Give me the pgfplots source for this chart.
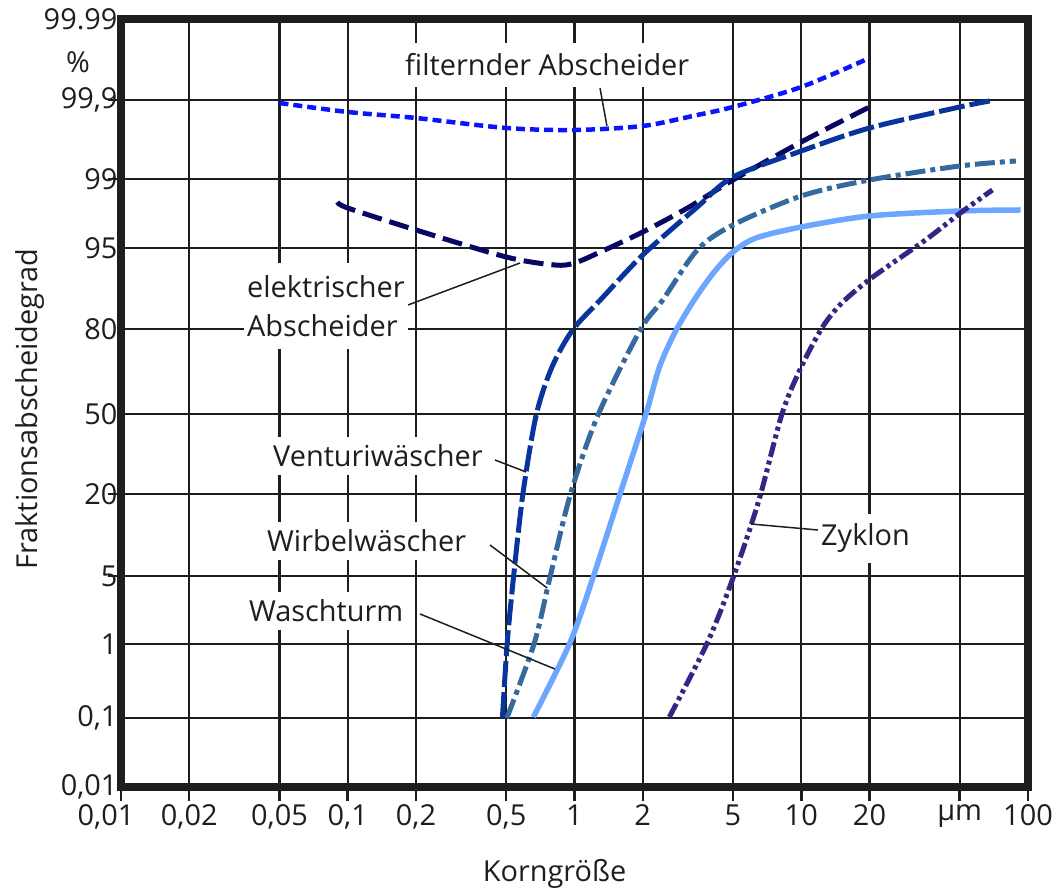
\documentclass[border=0pt]{standalone}
\usepackage{fontspec}
\setmainfont{Open Sans}
\usepackage{pgfplots}
\pgfplotsset{compat=1.18}
\usetikzlibrary{calc}
\definecolor{cfilt}{RGB}{10,20,255}
\definecolor{celek}{RGB}{8,8,100}
\definecolor{cvent}{RGB}{8,52,158}
\definecolor{cwirb}{RGB}{52,106,158}
\definecolor{cwasch}{RGB}{108,166,255}
\definecolor{czyk}{RGB}{50,38,135}
\definecolor{ctext}{RGB}{30,30,30}
\begin{document}
\begin{tikzpicture}[font=\fontsize{29}{39.5}\selectfont]
\begin{axis}[
  name=ax,
  at={(0,0)}, anchor=south west,
  scale only axis,
  width=907bp, height=768bp,
  xmode=log, xmin=0.01, xmax=100,
  ymin=0, ymax=768,
  xtick={0.01,0.02,0.05,0.1,0.2,0.5,1,2,5,10,20,50,100},
  xticklabels={{\hbox to 0pt{\hss 0,01\hskip 30bp\hss}},{0,02},{0,05},{0,1},{0,2},{0,5},{1},{2},{5},{10},{20},{µm},{100}},
  minor xtick={},
  ytick={0,69,143,211,293,373,458,539,608,687,768},
  yticklabels={{0,01},{0,1},{1},{5},{20},{50},{80},{95},{99},{99,9},{99.99}},
  grid=major,
  tick align=outside,
  major tick length=14bp,
  xtick pos=lower, ytick pos=lower,
  xtick style={line width=2.5bp, draw=ctext},
  ytick style={draw=none},
  tick label style={font=\fontsize{29}{35}\selectfont, text=ctext},
  yticklabel style={xshift=14bp},
  label style={font=\fontsize{29}{35}\selectfont, text=ctext},
  axis line style={line width=7.5bp, draw=ctext},
  major grid style={line width=2.3bp, draw=ctext},
  clip=false,
  xlabel={Korngröße},
  ylabel={Fraktionsabscheidegrad},
  xlabel style={at={(axis description cs:0.478,-0.1224)}, anchor=base},
  ylabel style={at={(axis description cs:-0.0915,0.4922)}, anchor=base},
]
% filternder Abscheider
\addplot[cfilt, line width=4.5bp, dash pattern=on 9bp off 5bp, smooth, tension=0.5] coordinates {
 (0.05,684) (0.1,675) (0.2,669) (0.5,659) (1,657) (2,661) (3.48,672) (5,680) (10,700) (20,729)};
% elektrischer Abscheider
\addplot[celek, line width=5bp, dash pattern=on 20bp off 8bp, smooth, tension=0.5] coordinates {
 (0.09,585) (0.1,579) (0.2,557) (0.5,530) (0.82,522) (1,524) (1.3,535) (2,555) (3.15,579) (5,607) (10,645) (20,680)};
% Venturiwaescher
\addplot[cvent, line width=5bp, dash pattern=on 26bp off 5bp, smooth, tension=0.5] coordinates {
 (0.481,69) (0.505,144) (0.539,211) (0.593,294) (0.678,372) (0.796,420) (0.981,457) (1.30,487) (2,532) (3.48,580) (5,610) (10,636) (20,659) (50,680) (67.8,686)};
% Wirbelwaescher
\addplot[cwirb, line width=5bp, dash pattern=on 20bp off 5bp on 5bp off 5bp, smooth, tension=0.5] coordinates {
 (0.503,69) (0.665,144) (0.782,211) (0.963,294) (1.27,372) (1.95,457) (2.45,487) (3.48,537) (5,562) (10,591) (20,607) (50,621) (88.4,626)};
% Waschturm
\addplot[cwasch, line width=5.5bp, smooth, tension=0.5] coordinates {
 (0.659,70) (0.954,144) (1.213,211) (1.593,294) (2.06,372) (2.37,420) (2.78,455) (3.37,487) (4.13,515) (5,535) (6.32,549) (10,560) (20,571) (50,576) (92.7,577)};
% Zyklon
\addplot[czyk, line width=5bp, dash pattern=on 15bp off 4bp on 4bp off 4bp on 4bp off 4bp, smooth, tension=0.5] coordinates {
 (2.62,70) (3.85,144) (5.02,210) (6.51,287) (8.22,373) (10,420) (12.42,460) (15.1,484) (20.4,509) (35.3,547) (51,575) (69.7,597)};

% small outward y ticks
\draw[line width=2.5bp, ctext] (axis cs:0.01,687) -- ++(-13bp,0bp);
\draw[line width=2.5bp, ctext] (axis cs:0.01,608) -- ++(-13bp,0bp);
\draw[line width=2.5bp, ctext] (axis cs:0.01,293) -- ++(-13bp,0bp);
\draw[line width=2.5bp, ctext] (axis cs:0.01,211) -- ++(-13bp,0bp);

% leader lines
\draw[line width=1.5bp, ctext] ([xshift=479bp,yshift=699bp]rel axis cs:0,0) -- (axis cs:1.39,661);
\draw[line width=1.5bp, ctext] ([xshift=287bp,yshift=482bp]rel axis cs:0,0) -- (axis cs:0.575,524);
\draw[line width=1.5bp, ctext] ([xshift=374bp,yshift=327bp]rel axis cs:0,0) -- (axis cs:0.612,315);
\draw[line width=1.5bp, ctext] ([xshift=369bp,yshift=242bp]rel axis cs:0,0) -- (axis cs:0.758,199);
\draw[line width=1.5bp, ctext] ([xshift=299bp,yshift=173bp]rel axis cs:0,0) -- (axis cs:0.82,118);
\draw[line width=1.5bp, ctext] (axis cs:6.0,263) -- ([xshift=697bp,yshift=257bp]rel axis cs:0,0);

% labels
\node[anchor=base west, fill=white, inner xsep=3bp, inner ysep=11bp, text=ctext] at ([xshift=281bp,yshift=711bp]rel axis cs:0,0) {filternder Abscheider};
\node[anchor=north west, align=left, fill=white, inner xsep=3bp, inner ysep=12bp, text=ctext] at ([xshift=123bp,yshift=524bp]rel axis cs:0,0) {elektrischer\\Abscheider};
\node[anchor=base west, fill=white, inner xsep=3bp, inner ysep=8bp, text=ctext] at ([xshift=149bp,yshift=320bp]rel axis cs:0,0) {Venturiwäscher};
\node[anchor=base west, fill=white, inner xsep=3bp, inner ysep=8bp, text=ctext] at ([xshift=143bp,yshift=235bp]rel axis cs:0,0) {Wirbelwäscher};
\node[anchor=base west, fill=white, inner xsep=3bp, inner ysep=8bp, text=ctext] at ([xshift=125bp,yshift=165bp]rel axis cs:0,0) {Waschturm};
\node[anchor=base west, fill=white, inner xsep=3bp, inner ysep=10bp, text=ctext] at ([xshift=697bp,yshift=241bp]rel axis cs:0,0) {Zyklon};
\node[text=ctext] at ([xshift=-43bp,yshift=725bp]rel axis cs:0,0) {\%};
\end{axis}
\pgfresetboundingbox
\path ($(ax.south west)+(-121bp,-102bp)$) rectangle ($(ax.north east)+(34bp,19bp)$);
\end{tikzpicture}
\end{document}
